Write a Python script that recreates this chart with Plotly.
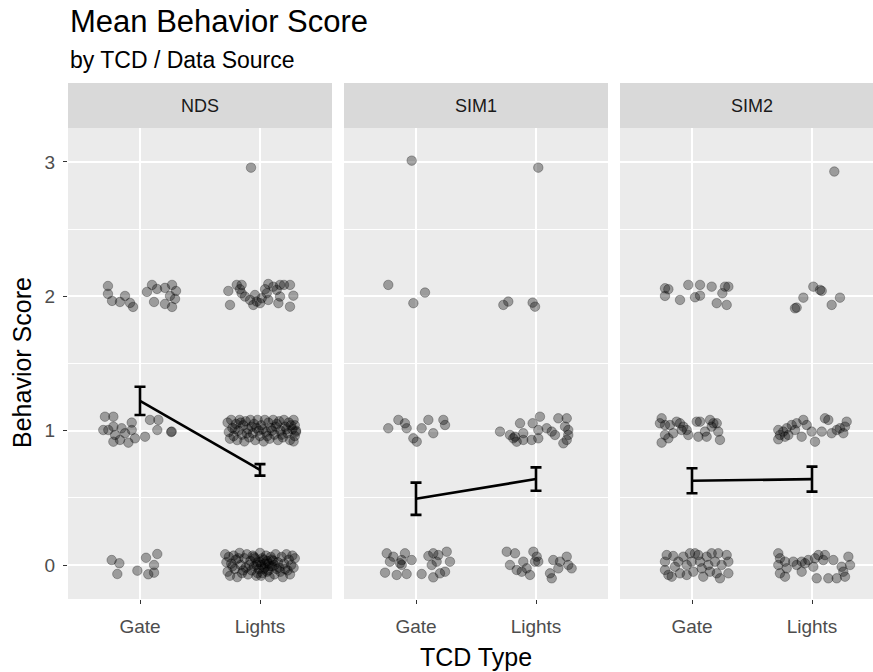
import plotly.graph_objects as go

# ---------------- data ----------------
panels = ["NDS", "SIM1", "SIM2"]
tcd_types = ["Gate", "Lights"]
y_ticks = [0, 1, 2, 3]

nds_gate_x = [0.733, 0.733, 0.767, 0.833, 0.875, 0.917, 0.942, 1.058, 1.100, 1.142, 1.208, 1.267, 1.300, 1.250, 1.117, 1.208, 1.292, 1.267,
              0.708, 0.778, 0.694, 0.736, 0.778, 0.847, 0.792, 0.778, 0.833, 0.903, 0.931, 0.931, 0.958, 1.042, 1.083, 1.153, 1.144, 1.264, 1.260, 0.875,
              0.764, 0.828, 0.811, 0.978, 1.050, 1.144, 1.117, 1.117, 1.069]
nds_gate_y = [2.077, 2.018, 1.966, 1.958, 2.003, 1.951, 1.921, 2.033, 2.085, 2.055, 2.063, 2.085, 2.040, 2.003, 1.958, 1.943, 1.981, 1.921,
              1.104, 1.104, 1.005, 1.005, 1.030, 1.018, 0.968, 0.918, 0.931, 0.911, 1.060, 1.005, 0.943, 0.955, 1.080, 1.080, 1.005, 0.993, 0.990, 0.981,
              0.037, 0.013, -0.067, -0.042, 0.054, 0.082, 0.000, -0.057, -0.069]

nds_lights_x = [1.925,
                1.736, 1.750, 1.806, 1.847, 1.833, 1.847, 1.875, 1.917, 1.958, 1.972, 2.000, 2.014, 2.042, 2.069, 2.056, 2.111, 2.139, 2.167, 2.200, 2.250, 2.278, 2.167, 2.153, 2.250, 2.069, 1.944,
                1.73, 1.74, 1.75, 1.76, 1.77, 1.78, 1.80, 1.81, 1.82, 1.83, 1.85, 1.86, 1.87, 1.88, 1.90, 1.91, 1.92, 1.94, 1.95, 1.96, 1.98, 1.99, 2.00, 2.01, 2.03, 2.04,
                2.05, 2.07, 2.08, 2.09, 2.11, 2.12, 2.13, 2.15, 2.16, 2.17, 2.19, 2.20, 2.21, 2.23, 2.24, 2.25, 2.27, 2.28, 2.29, 2.29, 2.30, 2.28,
                1.79, 1.84, 1.89, 1.93, 1.97, 2.02, 2.06, 2.10, 2.14, 2.18, 2.22, 2.26, 2.30,
                1.71, 1.72, 1.73, 1.74, 1.75, 1.76, 1.78, 1.79, 1.80, 1.81, 1.83, 1.84, 1.85, 1.87, 1.88, 1.89, 1.90, 1.92, 1.93, 1.94, 1.95, 1.96, 1.97, 1.98, 1.99,
                2.00, 2.01, 2.02, 2.03, 2.04, 2.05, 2.06, 2.07, 2.08, 2.09, 2.10, 2.11, 2.12, 2.13, 2.14, 2.15, 2.17, 2.18, 2.19, 2.20, 2.22, 2.23, 2.24, 2.25, 2.26,
                2.27, 2.28, 2.29, 1.77, 1.82, 1.86, 1.91, 1.95, 1.98, 2.00, 2.02, 2.04, 2.06, 2.08, 2.10, 2.12, 2.16, 2.21, 1.97, 2.03, 2.07, 2.01]
nds_lights_y = [2.958,
                2.040, 1.936, 2.085, 2.085, 2.053, 2.023, 1.998, 1.973, 2.010, 1.961, 1.949, 1.986, 2.053, 2.092, 2.023, 2.072, 2.048, 2.085, 2.085, 2.085, 2.005, 1.998, 1.949, 1.923, 1.973, 1.936,
                1.06, 0.99, 0.94, 1.08, 1.02, 0.96, 1.05, 0.93, 1.00, 1.08, 0.97, 1.04, 0.92, 1.07, 1.01, 0.95, 1.08, 0.98, 1.05, 0.93, 1.08, 1.00, 0.96, 1.04, 0.92, 1.08,
                0.99, 1.06, 0.94, 1.02, 1.08, 0.97, 1.03, 0.93, 1.07, 1.00, 0.95, 1.08, 1.03, 0.98, 1.06, 0.93, 1.01, 1.08, 0.96, 1.04, 0.99, 0.92,
                1.01, 1.06, 0.98, 1.03, 1.02, 1.01, 0.96, 1.00, 1.05, 0.97, 1.01, 1.04, 1.00,
                0.08, 0.02, -0.05, 0.06, -0.08, 0.01, 0.07, -0.03, 0.04, -0.09, 0.09, 0.00, -0.06, 0.05, -0.02, 0.08, -0.07, 0.03, -0.04, 0.07, -0.01, 0.05, -0.08, 0.02, -0.03,
                0.09, 0.00, -0.06, 0.04, -0.02, 0.07, -0.05, 0.01, -0.09, 0.06, -0.01, 0.03, -0.07, 0.08, -0.03, 0.02, -0.05, 0.06, -0.09, 0.01, 0.08, -0.04, 0.04, -0.07, 0.00,
                0.07, -0.02, 0.05, -0.01, 0.05, -0.04, 0.00, 0.06, -0.06, 0.02, 0.05, 0.01, 0.03, -0.01, 0.04, 0.00, -0.02, -0.03, 0.00, -0.03, -0.04, -0.08]

sim1_gate_x = [0.964,
               0.769, 1.075, 0.978,
               0.769, 0.853, 0.908, 0.922, 0.978, 1.006, 1.047, 1.103, 1.144, 1.228, 1.242,
               0.756, 0.811, 0.783, 0.742, 0.839, 0.881, 0.908, 0.964, 0.881, 0.922, 1.047, 1.103, 1.144, 1.186, 1.172, 1.256, 1.283, 1.144, 1.200, 1.242, 0.867, 1.131]
sim1_gate_y = [3.010,
               2.085, 2.028, 1.949,
               1.018, 1.080, 1.055, 1.018, 0.943, 0.918, 1.018, 1.080, 0.981, 1.080, 1.042,
               0.087, 0.062, 0.025, -0.057, -0.074, 0.037, 0.087, 0.037, 0.000, -0.067, -0.067, 0.067, 0.087, 0.074, 0.025, 0.099, 0.025, -0.092, -0.062, -0.050, 0.013, 0.000]

sim1_lights_x = [2.019,
                 1.728, 1.769, 1.972, 1.992,
                 1.700, 1.783, 1.811, 1.839, 1.867, 1.894, 1.894, 1.964, 1.972, 2.019, 2.019, 2.033, 2.089, 2.131, 2.158, 2.186, 2.256, 2.242, 2.269, 2.269, 2.256, 2.228, 1.825,
                 1.756, 1.825, 1.783, 1.839, 1.881, 1.894, 1.950, 1.978, 2.006, 2.019, 2.117, 2.131, 2.144, 2.200, 2.186, 2.256, 2.269, 2.297, 1.922, 1.992]
sim1_lights_y = [2.958,
                 1.936, 1.961, 1.953, 1.923,
                 0.993, 0.968, 0.943, 0.918, 1.055, 0.981, 0.931, 0.931, 1.055, 1.005, 0.943, 1.104, 1.018, 0.993, 0.968, 1.092, 1.092, 1.030, 1.005, 0.968, 0.931, 0.906, 0.955,
                 0.099, 0.087, 0.000, -0.037, -0.050, 0.025, -0.074, 0.099, 0.062, 0.025, -0.062, -0.099, 0.037, 0.025, -0.025, 0.062, 0.000, -0.025, -0.025, 0.025]

sim2_gate_x = [0.775, 0.803, 0.775, 0.900, 0.969, 1.067, 1.025, 1.067, 1.164, 1.275, 1.303, 1.253, 1.206, 1.289,
               0.747, 0.733, 0.775, 0.817, 0.872, 0.900, 0.928, 0.956, 0.844, 0.775, 0.803, 0.747, 0.969, 1.039, 1.067, 1.053, 1.108, 1.150, 1.178, 1.206, 1.164, 1.219, 1.122, 1.233, 0.914,
               0.789, 0.775, 0.775, 0.803, 0.844, 0.858, 0.886, 0.900, 0.928, 0.956, 0.983, 0.997, 1.025, 1.011, 1.067, 1.081, 1.094, 1.122, 1.136, 1.164, 1.192, 1.206, 1.219, 1.247, 1.289, 1.303, 1.303, 1.233, 0.831, 1.053, 1.150, 0.956]
sim2_gate_y = [2.060, 2.053, 2.003, 1.973, 2.085, 2.085, 1.993, 2.005, 2.072, 2.072, 2.072, 2.023, 1.949, 1.936,
               1.092, 1.055, 1.042, 1.042, 1.067, 1.055, 1.030, 1.005, 0.981, 0.968, 0.943, 0.911, 0.968, 1.067, 1.067, 0.955, 0.993, 1.080, 1.055, 1.055, 1.030, 0.993, 0.955, 0.931, 1.005,
               0.074, 0.025, -0.037, -0.074, 0.067, -0.013, 0.025, -0.062, 0.062, 0.000, 0.087, 0.025, 0.087, -0.050, 0.025, -0.025, -0.087, 0.062, 0.000, 0.087, 0.025, -0.062, 0.087, 0.000, 0.074, 0.025, -0.062, -0.099, -0.087, 0.074, -0.050, -0.074]

sim2_lights_x = [2.186,
                 1.872, 2.011, 2.067, 2.081, 1.928, 2.164, 2.233, 1.858,
                 1.719, 1.733, 1.719, 1.761, 1.789, 1.803, 1.831, 1.858, 1.872, 1.914, 1.928, 1.956, 1.997, 2.025, 2.081, 2.108, 2.136, 2.164, 2.206, 2.233, 2.275, 2.289, 2.261, 1.775,
                 1.719, 1.733, 1.719, 1.733, 1.775, 1.789, 1.844, 1.872, 1.914, 1.942, 1.969, 2.011, 2.025, 2.053, 2.039, 2.094, 2.108, 2.136, 2.178, 2.206, 2.247, 2.261, 2.275, 2.303, 2.317, 1.775, 1.914]
sim2_lights_y = [2.929,
                 1.916, 2.072, 2.048, 2.040, 1.990, 1.936, 1.990, 1.911,
                 1.005, 0.968, 0.936, 0.993, 1.018, 0.968, 1.042, 1.005, 1.055, 0.955, 1.080, 1.042, 0.993, 0.918, 0.993, 1.092, 1.080, 0.981, 1.005, 1.018, 1.030, 1.067, 0.981, 0.955,
                 0.087, 0.050, 0.000, -0.062, 0.025, -0.025, 0.025, 0.000, -0.050, 0.013, 0.037, -0.013, 0.050, 0.074, -0.099, 0.037, 0.074, -0.099, 0.037, -0.099, -0.013, -0.050, -0.087, 0.062, 0.000, -0.087, 0.025]

mean_nds = [1.222, 0.708]
se_nds = [0.105, 0.043]
mean_sim1 = [0.493, 0.640]
se_sim1 = [0.120, 0.087]
mean_sim2 = [0.627, 0.639]
se_sim2 = [0.093, 0.093]

points = [
    (nds_gate_x + nds_lights_x, nds_gate_y + nds_lights_y),
    (sim1_gate_x + sim1_lights_x, sim1_gate_y + sim1_lights_y),
    (sim2_gate_x + sim2_lights_x, sim2_gate_y + sim2_lights_y),
]
means = [(mean_nds, se_nds), (mean_sim1, se_sim1), (mean_sim2, se_sim2)]

# ---------------- layout geometry ----------------
W, H = 873, 672
FONT = "Liberation Sans, Arial, sans-serif"
panel_px = [(68, 332), (344, 608), (620, 884)]
panel_top, panel_bot = 128, 599
strip_top = 83

def fx(p):
    return p / W

def fy(p):
    return 1 - p / H

fig = go.Figure()

for i, (name, (px, py), (m, s)) in enumerate(zip(panels, points, means)):
    xa = "x" if i == 0 else f"x{i+1}"
    ya = "y" if i == 0 else f"y{i+1}"
    fig.add_trace(go.Scatter(
        x=px, y=py, mode="markers", xaxis=xa, yaxis=ya, showlegend=False,
        marker=dict(size=9.5, color="rgba(0,0,0,0.34)",
                    line=dict(color="rgba(0,0,0,0.28)", width=1)),
        hoverinfo="skip"))
    fig.add_trace(go.Scatter(
        x=[1, 2], y=m, mode="lines", xaxis=xa, yaxis=ya, showlegend=False,
        line=dict(color="black", width=2.6),
        error_y=dict(type="data", array=s, visible=True, color="black", thickness=2.6, width=5.5),
        hoverinfo="skip"))

layout = dict(
    width=W, height=H,
    margin=dict(l=0, r=0, t=0, b=0),
    paper_bgcolor="white",
    plot_bgcolor="#EBEBEB",
    font=dict(family=FONT),
    showlegend=False,
)

for i in range(3):
    x0, x1 = panel_px[i]
    d1 = min(fx(x1), 1.0)
    xmax = 0.4 + (min(x1, W) - x0) / 120.0
    key = "xaxis" if i == 0 else f"xaxis{i+1}"
    ykey = "yaxis" if i == 0 else f"yaxis{i+1}"
    ya = "y" if i == 0 else f"y{i+1}"
    xa = "x" if i == 0 else f"x{i+1}"
    layout[key] = dict(
        domain=[fx(x0), d1], anchor=ya, range=[0.4, xmax],
        tickvals=[1, 2], ticktext=tcd_types,
        showgrid=True, gridcolor="white", gridwidth=1.7, zeroline=False,
        ticks="outside", ticklen=4, tickwidth=1, tickcolor="#333333",
        ticklabelstandoff=6,
        tickfont=dict(size=19, color="#4D4D4D", family=FONT),
        showline=False, fixedrange=True)
    layout[ykey] = dict(
        domain=[fy(panel_bot), fy(panel_top)], anchor=xa,
        range=[-0.253, 3.253], tickvals=y_ticks,
        showgrid=True, gridcolor="white", gridwidth=1.7, zeroline=False,
        minor=dict(dtick=0.5, tick0=0, showgrid=True, gridcolor="white", gridwidth=0.8),
        ticks="outside" if i == 0 else "", ticklen=4, tickwidth=1, tickcolor="#333333",
        ticklabelstandoff=4,
        showticklabels=(i == 0),
        tickfont=dict(size=19, color="#4D4D4D", family=FONT),
        showline=False, fixedrange=True)
    if i > 0:
        layout[ykey]["matches"] = "y"

fig.update_layout(**layout)

shapes = []
annotations = []
for i, name in enumerate(panels):
    x0, x1 = panel_px[i]
    shapes.append(dict(type="rect", xref="paper", yref="paper",
                       x0=fx(x0), x1=min(fx(x1), 1.0), y0=fy(panel_top), y1=fy(strip_top),
                       fillcolor="#D9D9D9", line=dict(width=0), layer="below"))
    annotations.append(dict(text=name, xref="paper", yref="paper",
                            x=fx((x0 + x1) / 2), y=fy((panel_top + strip_top) / 2),
                            xanchor="center", yanchor="middle", showarrow=False,
                            font=dict(size=18, color="#1A1A1A", family=FONT)))

annotations.append(dict(text="Mean Behavior Score", xref="paper", yref="paper",
                        x=fx(68), y=fy(22), xanchor="left", yanchor="middle", showarrow=False,
                        font=dict(size=31, color="black", family=FONT)))
annotations.append(dict(text="by TCD / Data Source", xref="paper", yref="paper",
                        x=fx(68), y=fy(60), xanchor="left", yanchor="middle", showarrow=False,
                        font=dict(size=23, color="black", family=FONT)))
annotations.append(dict(text="TCD Type", xref="paper", yref="paper",
                        x=fx(476), y=fy(657), xanchor="center", yanchor="middle", showarrow=False,
                        font=dict(size=25, color="black", family=FONT)))
annotations.append(dict(text="Behavior Score", xref="paper", yref="paper",
                        x=fx(22), y=fy(363), xanchor="center", yanchor="middle", showarrow=False,
                        textangle=-90, font=dict(size=25, color="black", family=FONT)))

fig.update_layout(shapes=shapes, annotations=annotations)
fig.write_html("out.html")
